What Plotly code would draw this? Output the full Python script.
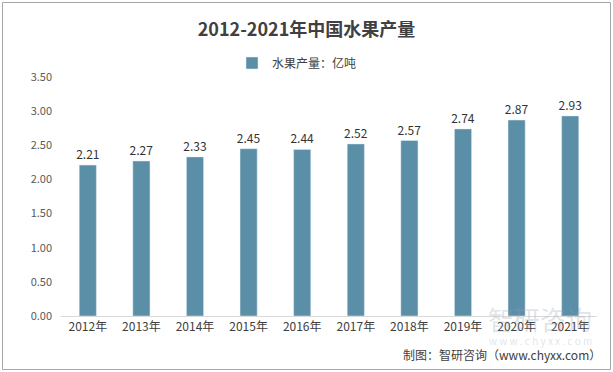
import plotly.graph_objects as go

years = ["2012年", "2013年", "2014年", "2015年", "2016年", "2017年", "2018年", "2019年", "2020年", "2021年"]
output = [2.21, 2.27, 2.33, 2.45, 2.44, 2.52, 2.57, 2.74, 2.87, 2.93]
y_ticks = [0, 0.5, 1.0, 1.5, 2.0, 2.5, 3.0, 3.5]
series_name = "水果产量：亿吨"
title_text = "2012-2021年中国水果产量"
source_text = "制图：智研咨询（www.chyxx.com）"

W, H = 613, 372
L, R, T, B = 61, 16, 77, 56
pw, ph = W - L - R, H - T - B

FONT = "Noto Sans CJK SC, Noto Sans, sans-serif"

fig = go.Figure()
fig.add_trace(go.Bar(
    x=years, y=output, name=series_name,
    marker=dict(color="#5B8FA7"),
    width=0.32,
    text=[f"{v:.2f}" for v in output],
    textposition="outside",
    constraintext="none",
    textfont=dict(size=12, color="#333333"),
    cliponaxis=False,
))

def px_x(p):
    return (p - L) / pw

def px_y(p):
    return 1 - (p - T) / ph

fig.update_layout(
    width=W, height=H,
    margin=dict(l=L, r=R, t=T, b=B, autoexpand=False),
    paper_bgcolor="white", plot_bgcolor="white",
    font=dict(family=FONT, size=11, color="#595959"),
    title=dict(text=title_text, x=0.5, xanchor="center", y=1 - 30 / H, yanchor="middle",
               font=dict(size=18, color="#404040", family=FONT, weight="bold")),
    showlegend=True,
    legend=dict(orientation="h", x=px_x(297), xanchor="center", y=px_y(63), yanchor="middle",
                font=dict(size=12, color="#404040"), bgcolor="rgba(0,0,0,0)",
                itemwidth=30),
    bargap=0.68,
    xaxis=dict(showline=True, linecolor="#D9D9D9", linewidth=1, ticks="",
               tickfont=dict(size=12, color="#404040"), showgrid=False),
    yaxis=dict(range=[0, 3.5], tickvals=y_ticks, ticktext=[f"{v:.2f}" for v in y_ticks],
               showgrid=False, zeroline=False, showline=False,
               tickfont=dict(size=11, color="#595959"), ticklabelstandoff=8),
    shapes=[dict(type="rect", xref="paper", yref="paper",
                 x0=px_x(2.5), x1=px_x(610.5), y0=px_y(369.5), y1=px_y(2.5),
                 line=dict(color="#A6A6A6", width=1), fillcolor="rgba(0,0,0,0)", layer="below")],
    annotations=[
        dict(text="智研咨询", xref="paper", yref="paper", x=px_x(540), y=px_y(318),
             xanchor="center", yanchor="middle", showarrow=False,
             font=dict(size=26, color="rgba(150,160,175,0.3)", family=FONT)),
        dict(text="w w w . c h y x x . c o m", xref="paper", yref="paper", x=px_x(540), y=px_y(340),
             xanchor="center", yanchor="middle", showarrow=False,
             font=dict(size=10, color="rgba(150,160,175,0.3)", family=FONT)),
        dict(text=source_text, xref="paper", yref="paper", x=px_x(603), y=px_y(354),
             xanchor="right", yanchor="middle", showarrow=False,
             font=dict(size=12, color="#404040", family=FONT)),
    ],
)

fig.write_html("out.html", config={"displayModeBar": False},
               post_script="document.body.style.margin='0';document.body.style.overflow='hidden';")
